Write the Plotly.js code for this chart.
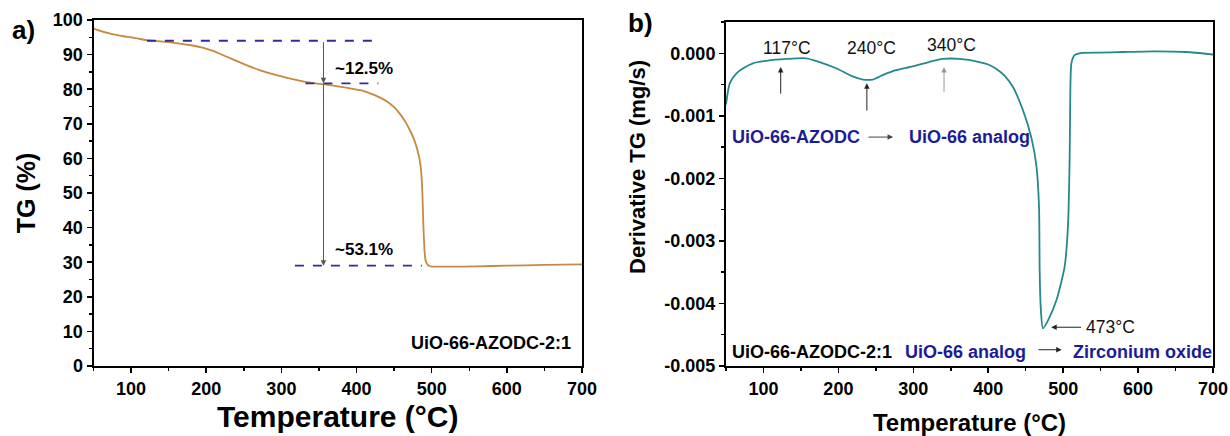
<!DOCTYPE html>
<html>
<head>
<meta charset="utf-8">
<script src="https://cdn.plot.ly/plotly-3.0.1.min.js"></script>
<style>html,body{margin:0;padding:0;background:#fff;}#chart{width:1230px;height:436px;}</style>
</head>
<body>
<div id="chart"></div>
<script>
// ---- Panel a: TG curve ----
const tgTemp = [50,60,70,80,90,100,110,120,135,150,165,180,195,210,225,240,255,270,285,300,315,330,345,365,390,405,418,430,441,451,459,466,472,477,481,484,486,487.6,489,490.7,492,493.5,495,497,500,505,525,560,600,650,700];
const tgVal  = [97.5,96.8,96.2,95.7,95.3,95.0,94.6,94.2,93.9,93.6,93.2,92.7,92.0,91.0,89.6,88.2,86.8,85.6,84.6,83.7,82.9,82.2,81.7,81.2,80.3,79.7,78.8,77.7,76.4,74.6,72.5,70.2,67.7,65.2,62.4,59.6,56.2,50.0,40.3,32.6,30.4,29.6,29.2,28.9,28.75,28.7,28.7,28.8,29.0,29.2,29.4];
// dashed reference levels (TG %) and their spans (deg C)
const tgLevels = [94.0, 81.7, 29.0];
const tgLevelStart = [121, 332, 318];
const tgLevelEnd = [425, 429, 487];
const tgStepTemp = 356;
const tgStepLabels = ['~12.5%', '~53.1%'];
const tgYTicks = [0,10,20,30,40,50,60,70,80,90,100];
const tempTicks = [100,200,300,400,500,600,700];

// ---- Panel b: DTG curve ----
const dtgTemp = [50,55,64,73,86,104,131,157,175,197,219,233,246,259,277,299,321,339,362,388,400,411,422,433,446,457.6,464.3,467.8,468.7,470,473,479.8,491,502,506.4,508.7,509.6,511,515.3,526,549,580,620,664,700];
const dtgVal  = [-0.00082,-0.00048,-0.00032,-0.00024,-0.00016,-0.00012,-0.00009,-0.00008,-0.00014,-0.00024,-0.00037,-0.00042,-0.00042,-0.00035,-0.00027,-0.00021,-0.00014,-0.00009,-0.00009,-0.00014,-0.00018,-0.00025,-0.00036,-0.00054,-0.00090,-0.00135,-0.00180,-0.00246,-0.00351,-0.00405,-0.00440,-0.00427,-0.00395,-0.00341,-0.00277,-0.00166,-0.00059,-0.00016,-0.00003,0.000005,0.00001,0.00002,0.00003,0.00002,-0.00002];
const dtgYTicks = [0,-0.001,-0.002,-0.003,-0.004,-0.005];
const dtgYTickText = ['0.000','-0.001','-0.002','-0.003','-0.004','-0.005'];
const peakTemps = [117, 240, 340];
const peakLabels = ['117°C','240°C','340°C'];
const mainPeakTemp = 473;
const mainPeakVal = -0.00440;

const FONT = 'Arial, "Liberation Sans", sans-serif';
const BLUE = '#1c1c96';
const NAVY = '#2e2e9a';

const traces = [
  {x: tgTemp, y: tgVal, type:'scatter', mode:'lines', line:{color:'#c68a3e', width:1.8, shape:'spline', smoothing:0.5}, xaxis:'x', yaxis:'y', hoverinfo:'skip'},
  {x: dtgTemp, y: dtgVal, type:'scatter', mode:'lines', line:{color:'#25898a', width:1.8, shape:'spline', smoothing:0.6}, xaxis:'x2', yaxis:'y2', hoverinfo:'skip'}
];

const axisCommon = {
  showline:true, linecolor:'#000', linewidth:2, mirror:true,
  ticks:'outside', ticklen:5, tickwidth:1.5, tickcolor:'#000',
  showgrid:false, zeroline:false,
  tickfont:{family:FONT, size:18, color:'#000', weight:'bold'}
};

const shapes = [];
for (let i = 0; i < tgLevels.length; i++) {
  shapes.push({type:'line', xref:'x', yref:'y', x0:tgLevelStart[i], x1:tgLevelEnd[i], y0:tgLevels[i], y1:tgLevels[i], line:{color:NAVY, width:1.8, dash:'dash'}});
}

const annotations = [];
function txt(o){ annotations.push(Object.assign({showarrow:false, font:{family:FONT, size:18, color:'#000', weight:'bold'}}, o)); }
function arrow(xr, yr, x, y, ax, ay, color){
  annotations.push({xref:xr, yref:yr, axref:xr, ayref:yr, x:x, y:y, ax:ax, ay:ay, text:'', showarrow:true, arrowhead:2, arrowsize:1.1, arrowwidth:1, arrowcolor:color||'#333'});
}
// panel labels
txt({xref:'paper', yref:'paper', x:23/1230, y:1-30/436, xanchor:'center', yanchor:'middle', text:'a)', font:{family:FONT, size:26, color:'#000', weight:'bold'}});
txt({xref:'paper', yref:'paper', x:640/1230, y:1-23/436, xanchor:'center', yanchor:'middle', text:'b)', font:{family:FONT, size:26, color:'#000', weight:'bold'}});
// y-axis title for panel b (placed as in the reference, above the axis centre)
txt({xref:'paper', yref:'paper', x:637/1230, y:1-167/436, xanchor:'center', yanchor:'middle', textangle:-90, text:'Derivative TG (mg/s)', font:{family:FONT, size:22, color:'#000', weight:'bold'}});
// panel a annotations
arrow('x','y', tgStepTemp, tgLevels[1], tgStepTemp, tgLevels[0], '#555');
arrow('x','y', tgStepTemp, tgLevels[2], tgStepTemp, tgLevels[1], '#555');
txt({xref:'x', yref:'y', x:369, y:86.1, xanchor:'left', text:tgStepLabels[0], font:{family:FONT, size:17, color:'#000', weight:'bold'}});
txt({xref:'x', yref:'y', x:369, y:33.8, xanchor:'left', text:tgStepLabels[1], font:{family:FONT, size:17, color:'#000', weight:'bold'}});
txt({xref:'x', yref:'y', x:688, y:6.6, xanchor:'right', text:'UiO-66-AZODC-2:1'});
// panel b annotations
const peakLabelX = [131, 244, 351];
const peakLabelY = [0.000088, 0.000088, 0.000128];
const arrowTail = [-0.00067, -0.00094, -0.00064];
const arrowHead = [-0.00022, -0.00048, -0.00022];
const arrowX = [123, 238, 341];
const arrowCol = ['#222','#222','#999'];
for (let i = 0; i < peakTemps.length; i++) {
  txt({xref:'x2', yref:'y2', x:peakLabelX[i], y:peakLabelY[i], text:peakLabels[i], font:{family:FONT, size:17.5, color:'#111'}});
  arrow('x2','y2', arrowX[i], arrowHead[i], arrowX[i], arrowTail[i], arrowCol[i]);
}
txt({xref:'x2', yref:'y2', x:55.3, y:-0.00134, xanchor:'left', text:'UiO-66-AZODC', font:{family:FONT, size:18, color:BLUE, weight:'bold'}});
arrow('x2','y2', 273, -0.00134, 238, -0.00134, '#444');
txt({xref:'x2', yref:'y2', x:291, y:-0.00134, xanchor:'left', text:'UiO-66 analog', font:{family:FONT, size:18, color:BLUE, weight:'bold'}});
txt({xref:'x2', yref:'y2', x:55.3, y:-0.00478, xanchor:'left', text:'UiO-66-AZODC-2:1'});
txt({xref:'x2', yref:'y2', x:286, y:-0.00478, xanchor:'left', text:'UiO-66 analog', font:{family:FONT, size:18, color:BLUE, weight:'bold'}});
arrow('x2','y2', 498, -0.00474, 465, -0.00474, '#222');
txt({xref:'x2', yref:'y2', x:511, y:-0.00478, xanchor:'left', text:'Zirconium oxide', font:{family:FONT, size:18, color:BLUE, weight:'bold'}});
arrow('x2','y2', mainPeakTemp + 11, mainPeakVal + 0.00002, 526, mainPeakVal + 0.00002, '#222');
txt({xref:'x2', yref:'y2', x:528, y:mainPeakVal + 0.00002, xanchor:'left', text:mainPeakTemp + '°C', font:{family:FONT, size:17.5, color:'#111'}});

const layout = {
  width:1230, height:436,
  margin:{l:0, r:0, t:0, b:0},
  paper_bgcolor:'#fff', plot_bgcolor:'#fff',
  showlegend:false,
  xaxis: Object.assign({}, axisCommon, {
    domain:[93.5/1230, 582/1230], range:[50,700], tickvals:tempTicks, anchor:'y',
    minor:{ticks:'outside', ticklen:3, tickwidth:1.5, tickcolor:'#000', dtick:50, tick0:50},
    title:{text:'Temperature (°C)', font:{family:FONT, size:30, color:'#000', weight:'bold'}, standoff:8}
  }),
  yaxis: Object.assign({}, axisCommon, {
    domain:[1-366/436, 1-20/436], range:[0,100], tickvals:tgYTicks, anchor:'x',
    minor:{ticks:'outside', ticklen:3, tickwidth:1.5, tickcolor:'#000', dtick:5, tick0:0},
    title:{text:'TG (%)', font:{family:FONT, size:25, color:'#000', weight:'bold'}, standoff:10}
  }),
  xaxis2: Object.assign({}, axisCommon, {
    domain:[726/1230, 1213/1230], range:[50,700], tickvals:tempTicks, anchor:'y2',
    minor:{ticks:'outside', ticklen:3, tickwidth:1.5, tickcolor:'#000', dtick:50, tick0:50},
    title:{text:'Temperature (°C)', font:{family:FONT, size:24, color:'#000', weight:'bold'}, standoff:18}
  }),
  yaxis2: Object.assign({}, axisCommon, {
    domain:[1-366/436, 1-22/436], range:[-0.005,0.0005], tickvals:dtgYTicks, ticktext:dtgYTickText, anchor:'x2',
    minor:{ticks:'outside', ticklen:3, tickwidth:1.5, tickcolor:'#000', dtick:0.0005, tick0:0}
  }),
  shapes: shapes,
  annotations: annotations
};

Plotly.newPlot('chart', traces, layout, {staticPlot:true, displayModeBar:false});
</script>
</body>
</html>
